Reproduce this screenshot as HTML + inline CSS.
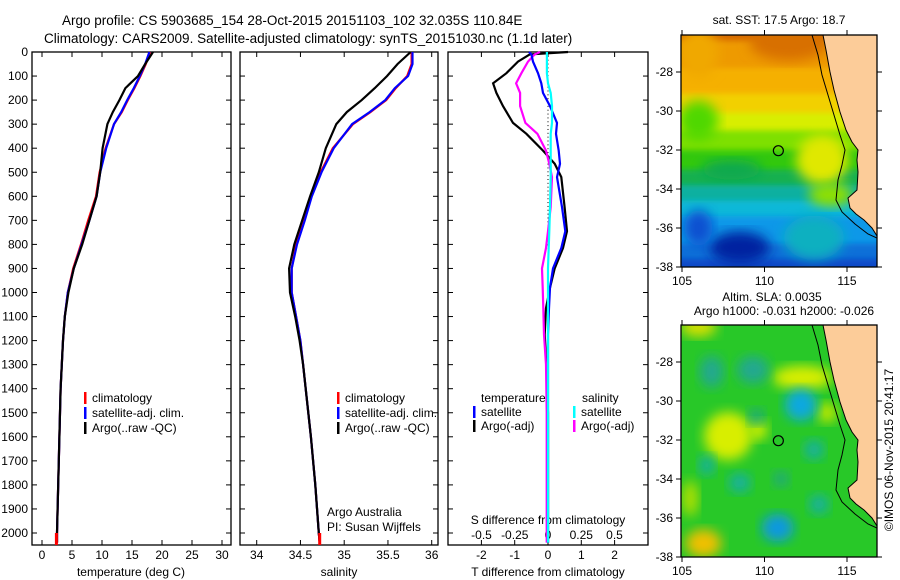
<!DOCTYPE html>
<html><head><meta charset="utf-8"><style>
html,body{margin:0;padding:0;background:#fff}
svg{display:block;font-family:"Liberation Sans",sans-serif}
</style></head><body>
<svg id="fig" width="900" height="580" viewBox="0 0 900 580" xmlns="http://www.w3.org/2000/svg">
<defs>
<clipPath id="clipTop"><rect x="681" y="35" width="196" height="232"/></clipPath>
<clipPath id="clipBot"><rect x="681" y="325" width="196" height="232"/></clipPath>
<filter id="blurA" x="-20%" y="-20%" width="140%" height="140%"><feGaussianBlur stdDeviation="6"/></filter>
<filter id="blurB" x="-20%" y="-20%" width="140%" height="140%"><feGaussianBlur stdDeviation="3"/></filter>
</defs>
<g id="root"></g>
</svg>
<script>
// ---------- data ----------
const depths      = [0,50,100,150,200,250,300,400,500,600,700,800,900,1000,1100,1200,1300,1400,1500,1600,1800,2000,2040];
const tempClim    = [18.0,17.3,16.4,15.4,14.3,13.3,12.0,10.6,9.6,9.0,7.7,6.5,5.2,4.3,3.8,3.5,3.3,3.1,3.0,2.9,2.7,2.5,2.5];
const tempSat     = [17.9,17.2,16.3,15.3,14.2,13.2,12.0,10.7,9.7,9.1,7.9,6.6,5.3,4.3,3.8,3.5,3.3,3.1,3.0,2.9,2.7,2.5,2.5];
const tempArgo    = [18.5,17.2,16.0,13.9,12.9,11.8,10.9,10.1,9.7,9.1,7.9,6.7,5.3,4.4,3.8,3.5,3.3,3.1,3.0,2.9,2.7,2.5,2.5];
const salClim     = [35.77,35.77,35.72,35.59,35.48,35.30,35.10,34.87,34.73,34.62,34.54,34.45,34.40,34.40,34.45,34.50,34.53,34.56,34.59,34.62,34.67,34.71,34.72];
const salSat      = [35.78,35.78,35.73,35.58,35.47,35.29,35.09,34.88,34.74,34.63,34.55,34.46,34.40,34.40,34.45,34.50,34.53,34.56,34.59,34.62,34.67,34.71,34.72];
const salArgo     = [35.76,35.61,35.49,35.35,35.20,35.03,34.91,34.79,34.71,34.61,34.52,34.43,34.37,34.38,34.44,34.49,34.53,34.56,34.59,34.62,34.67,34.71,34.72];
const diffDepths  = [0,10,40,88,130,170,225,295,340,410,465,520,645,745,815,900,980,1065,1175,1300,1500,1800,2040];
const dTArgo      = [0.6,-0.55,-0.9,-1.25,-1.65,-1.55,-1.35,-1.05,-0.65,-0.15,0.2,0.4,0.5,0.57,0.45,0.2,0.06,-0.06,-0.1,-0.05,0.0,0.0,0.0];
const dTSat       = [-0.57,-0.5,-0.45,-0.3,-0.2,-0.15,0.06,0.27,0.24,0.32,0.36,0.27,0.42,0.52,0.4,0.15,0.06,0.03,0.0,0.0,0.0,0.0,0.0];
const dSArgo      = [-0.06,-0.1,-0.15,-0.2,-0.24,-0.21,-0.21,-0.17,-0.08,-0.015,0.01,0.03,0.02,0.0,-0.015,-0.045,-0.04,-0.035,-0.03,-0.015,-0.01,-0.01,-0.01];
const dSSat       = [-0.008,-0.008,-0.008,-0.008,0.0,0.02,0.03,0.03,0.02,0.02,0.02,0.02,0.015,0.01,0.005,0.0,0.0,0.0,0.0,0.0,0.0,0.0,0.0];
const tempTicks   = [0,5,10,15,20,25,30];
const salTicks    = [34,34.5,35,35.5,36];
const dTTicks     = [-2,-1,0,1,2];
const dSTicks     = [-0.5,-0.25,0,0.25,0.5];
const depthTicks  = [0,100,200,300,400,500,600,700,800,900,1000,1100,1200,1300,1400,1500,1600,1700,1800,1900,2000];
const lonTicks    = [105,110,115];
const latTicks    = [-28,-30,-32,-34,-36,-38];
const argoLon = 110.84, argoLat = -32.035;

// ---------- helpers ----------
const NS="http://www.w3.org/2000/svg";
const root=document.getElementById('root');
function mk(tag,attrs,parent){const e=document.createElementNS(NS,tag);for(const k in attrs)e.setAttribute(k,attrs[k]);(parent||root).appendChild(e);return e;}
function txt(x,y,s,size,anchor,parent){const t=mk('text',{x:x,y:y,'font-size':size||12,'text-anchor':anchor||'start',fill:'#000'},parent);t.textContent=s;return t;}
const yD=d=>52+d*0.2405;
const PY0=52, PY1=545;
const P1={x0:32,x1:231}, P2={x0:240,x1:438}, P3={x0:448,x1:648};
const xT=t=>42+t*6.0;
const xS=s=>256.7+(s-34)*87.5;
const xdT=v=>548+v*33.3;
const xdS=v=>548+v*133;

function frame(P,name){
  const r=mk('rect',{x:P.x0,y:PY0,width:P.x1-P.x0,height:PY1-PY0,fill:'none',stroke:'#000','stroke-width':1.3});
  
  
  for(const d of depthTicks){
    const y=yD(d);
    mk('line',{x1:P.x0,y1:y,x2:P.x0+5,y2:y,stroke:'#000'});
    mk('line',{x1:P.x1,y1:y,x2:P.x1-5,y2:y,stroke:'#000'});
  }
}
function xticks(P,ticks,fx,y0,labY){
  for(const t of ticks){
    const x=fx(t);
    mk('line',{x1:x,y1:y0,x2:x,y2:y0-5,stroke:'#000'});
    mk('line',{x1:x,y1:PY0,x2:x,y2:PY0+5,stroke:'#000'});
    const l=txt(x,labY,String(t),12,'middle');
    
    
  }
}
function line(xs,ds,fx,color,name,w){
  const pts=xs.map((v,i)=>fx(v).toFixed(1)+','+yD(ds[i]).toFixed(1)).join(' ');
  const p=mk('polyline',{points:pts,fill:'none',stroke:color,'stroke-width':w||2.2,'stroke-linejoin':'miter'});
  
  
}
function legendEntry(x,y,color,label){
  const g=mk('g',{});
  
  
  mk('rect',{x:x,y:y-10,width:2.5,height:12,fill:color},g);
  txt(x+8,y,label,12,'start',g);
}

// ---------- titles ----------
let t=txt(62,25,'Argo profile: CS 5903685_154 28-Oct-2015 20151103_102 32.035S 110.84E',13.5);

t=txt(44,43,'Climatology: CARS2009. Satellite-adjusted climatology: synTS_20151030.nc (1.1d later)',13.5);


// ---------- panel 1 temperature ----------
frame(P1,'temperature-panel');
for(const d of depthTicks){const l=txt(28,yD(d)+4,String(d),12,'end');}
xticks(P1,tempTicks,xT,PY1,559);
t=txt(131,576,'temperature (deg C)',12,'middle');
line(tempClim,depths,xT,'#ff0000','temperature-climatology-line');
line(tempSat,depths,xT,'#0000ff','temperature-satellite-line');
line(tempArgo,depths,xT,'#000000','temperature-argo-line');
mk('rect',{x:xT(2.4)-1.5,y:yD(2000),width:3,height:PY1-yD(2000),fill:'#ff0000'});
legendEntry(84,402,'#ff0000','climatology');
legendEntry(84,417,'#0000ff','satellite-adj. clim.');
legendEntry(84,432,'#000000','Argo(..raw -QC)');

// ---------- panel 2 salinity ----------
frame(P2,'salinity-panel');
xticks(P2,salTicks,xS,PY1,559);
t=txt(339,576,'salinity',12,'middle');
line(salClim,depths,xS,'#ff0000','salinity-climatology-line');
line(salSat,depths,xS,'#0000ff','salinity-satellite-line');
line(salArgo,depths,xS,'#000000','salinity-argo-line');
mk('rect',{x:xS(34.72)-1.5,y:yD(2000),width:3,height:PY1-yD(2000),fill:'#ff0000'});
legendEntry(337,402,'#ff0000','climatology');
legendEntry(337,417,'#0000ff','satellite-adj. clim.');
legendEntry(337,432,'#000000','Argo(..raw -QC)');
t=txt(327,516,'Argo Australia',12);
t=txt(327,531,'PI: Susan Wijffels',12);

// ---------- panel 3 differences ----------
frame(P3,'difference-panel');
for(let d=0; d<=2040; d+=16){mk('rect',{x:547.5,y:yD(d),width:1,height:1,fill:'#000'});}
xticks(P3,dTTicks,xdT,PY1,559);
for(const v of dSTicks){const l=txt(xdS(v),539,String(v),12,'middle');}
t=txt(548,524,'S difference from climatology',12,'middle');
t=txt(548,576,'T difference from climatology',12,'middle');
line(dTArgo,diffDepths,xdT,'#000000','t-diff-argo-line');
line(dSArgo,diffDepths,xdS,'#ff00ff','s-diff-argo-line');
line(dTSat,diffDepths,xdT,'#0000ff','t-diff-satellite-line');
line(dSSat,diffDepths,xdS,'#00ffff','s-diff-satellite-line');
t=txt(481,402,'temperature',12);
t=txt(582,402,'salinity',12);
legendEntry(473,416,'#0000ff','satellite');
legendEntry(473,430,'#000000','Argo(-adj)');
legendEntry(573,416,'#00ffff','satellite');
legendEntry(573,430,'#ff00ff','Argo(-adj)');

// ---------- maps ----------
const lonX=lon=>682+(lon-105)*16.5;
const latY=(lat,top)=>top+37+(-28-lat)*19.5;
const coast=[[823,35],[826,50],[830,72],[834,90],[840,112],[846,130],[852,142],[858,150],[857,160],[858,172],[857,190],[848,198],[850,208],[856,214],[864,220],[872,228],[877,236]];
const shelf=[[812,35],[818,55],[822,75],[828,95],[834,115],[840,135],[845,150],[842,165],[838,180],[836,200],[842,212],[855,224],[868,234],[877,238]];

function map(top,clip,name,painter){
  const g=mk('g',{'clip-path':'url(#'+clip+')'});
  
  
  painter(g,top);
  const off=top-35;
  mk('polygon',{points:coast.map(p=>p[0]+','+(p[1]+off)).join(' ')+' 880,'+(top+240)+' 880,'+(top-5),fill:'#fccc99',stroke:'#000','stroke-width':1},g);
  mk('polyline',{points:shelf.map(p=>p[0]+','+(p[1]+off)).join(' '),fill:'none',stroke:'#000','stroke-width':1},g);
  mk('rect',{x:681,y:top,width:196,height:232,fill:'none',stroke:'#000','stroke-width':1.3});
  for(const lo of lonTicks){const x=lonX(lo);mk('line',{x1:x,y1:top+232,x2:x,y2:top+237,stroke:'#000'});mk('line',{x1:x,y1:top,x2:x,y2:top-5,stroke:'#000'});
    const l=txt(x,top+250,String(lo),12,'middle');}
  for(const la of latTicks){const y=latY(la,top);mk('line',{x1:877,y1:y,x2:882,y2:y,stroke:'#000'});mk('line',{x1:681,y1:y,x2:676,y2:y,stroke:'#000'});
    const l=txt(673,y+4,String(la),12,'end');}
  const c=mk('circle',{cx:lonX(argoLon),cy:latY(argoLat,top),r:5,fill:'none',stroke:'#000','stroke-width':1.2});
  
  
}
function blob(g,lon,lat,top,rx,ry,color,blur){mk('ellipse',{cx:lonX(lon),cy:latY(lat,top),rx:rx,ry:ry,fill:color,filter:'url(#'+(blur||'blurA')+')'},g);}

map(35,'clipTop','sst-map',(g,top)=>{
  const bands=[[-25,'#d66a00'],[-26.6,'#ee9a00'],[-28,'#f5b000'],[-29.3,'#f2d000'],[-30.3,'#d8ee00'],[-31.2,'#7ee000'],[-32.2,'#30c810'],[-33.2,'#14b050'],[-34,'#10b0a0'],[-34.8,'#10b8d8'],[-35.6,'#1098e8'],[-37,'#0a70d8'],[-37.8,'#0848c8'],[-40,'#0040c0']];
  for(let i=0;i<bands.length-1;i++){mk('rect',{x:670,y:latY(bands[i][0],top)-4,width:220,height:latY(bands[i+1][0],top)-latY(bands[i][0],top)+8,fill:bands[i][1],filter:'url(#blurB)'},g);}
  blob(g,111.5,-26.5,top,40,18,'#d87000');
  blob(g,106,-27,top,20,25,'#f0a800');
  blob(g,106,-30.5,top,20,20,'#50d800');
  blob(g,113.5,-32.5,top,26,25,'#e0e800');
  blob(g,114,-34.3,top,22,12,'#90e000');
  blob(g,108,-33,top,30,10,'#10a850');
  blob(g,108.5,-37,top,30,16,'#0020a0');
  blob(g,113,-36.5,top,30,22,'#10b0c0');
  blob(g,106,-36,top,14,18,'#0850d0');
});
map(325,'clipBot','sla-map',(g,top)=>{
  mk('rect',{x:681,y:top,width:196,height:232,fill:'#28c828'},g);
  blob(g,112.3,-28.8,top,30,12,'#d8ee00');
  blob(g,107.8,-31.8,top,24,24,'#d8ee00');
  blob(g,109.6,-31.5,top,10,10,'#c8ee00');
  blob(g,113.8,-30.6,top,10,10,'#c0e800');
  blob(g,106,-26.2,top,18,10,'#d8e000');
  blob(g,106.3,-37.3,top,18,14,'#f0c000');
  blob(g,105.5,-35,top,8,18,'#b0e000');
  blob(g,112.2,-30.2,top,16,16,'#10a8e0');
  blob(g,110.8,-36.5,top,16,14,'#1098e0');
  blob(g,113,-32.5,top,10,10,'#18b0a0');
  blob(g,108.5,-34.2,top,11,10,'#18b0a0');
  blob(g,106.5,-33.3,top,8,10,'#18b0a0');
  blob(g,113.3,-35.3,top,10,10,'#18b0a0');
  blob(g,111,-34,top,8,8,'#20a880');
  blob(g,109.3,-28.4,top,16,14,'#20a890');
  blob(g,106.8,-28.5,top,12,16,'#20a890');
  blob(g,109.5,-30.8,top,8,8,'#20a880');
});
t=txt(779,24,'sat. SST: 17.5 Argo: 18.7',12,'middle');
t=txt(772,301,'Altim. SLA: 0.0035',12,'middle');
t=txt(784,315,'Argo h1000: -0.031 h2000: -0.026',12,'middle');
t=mk('text',{x:0,y:0,'font-size':12,'text-anchor':'middle',transform:'translate(893,450) rotate(-90)'});t.textContent='\u00a9IMOS 06-Nov-2015 20:41:17';

</script>
</body></html>
